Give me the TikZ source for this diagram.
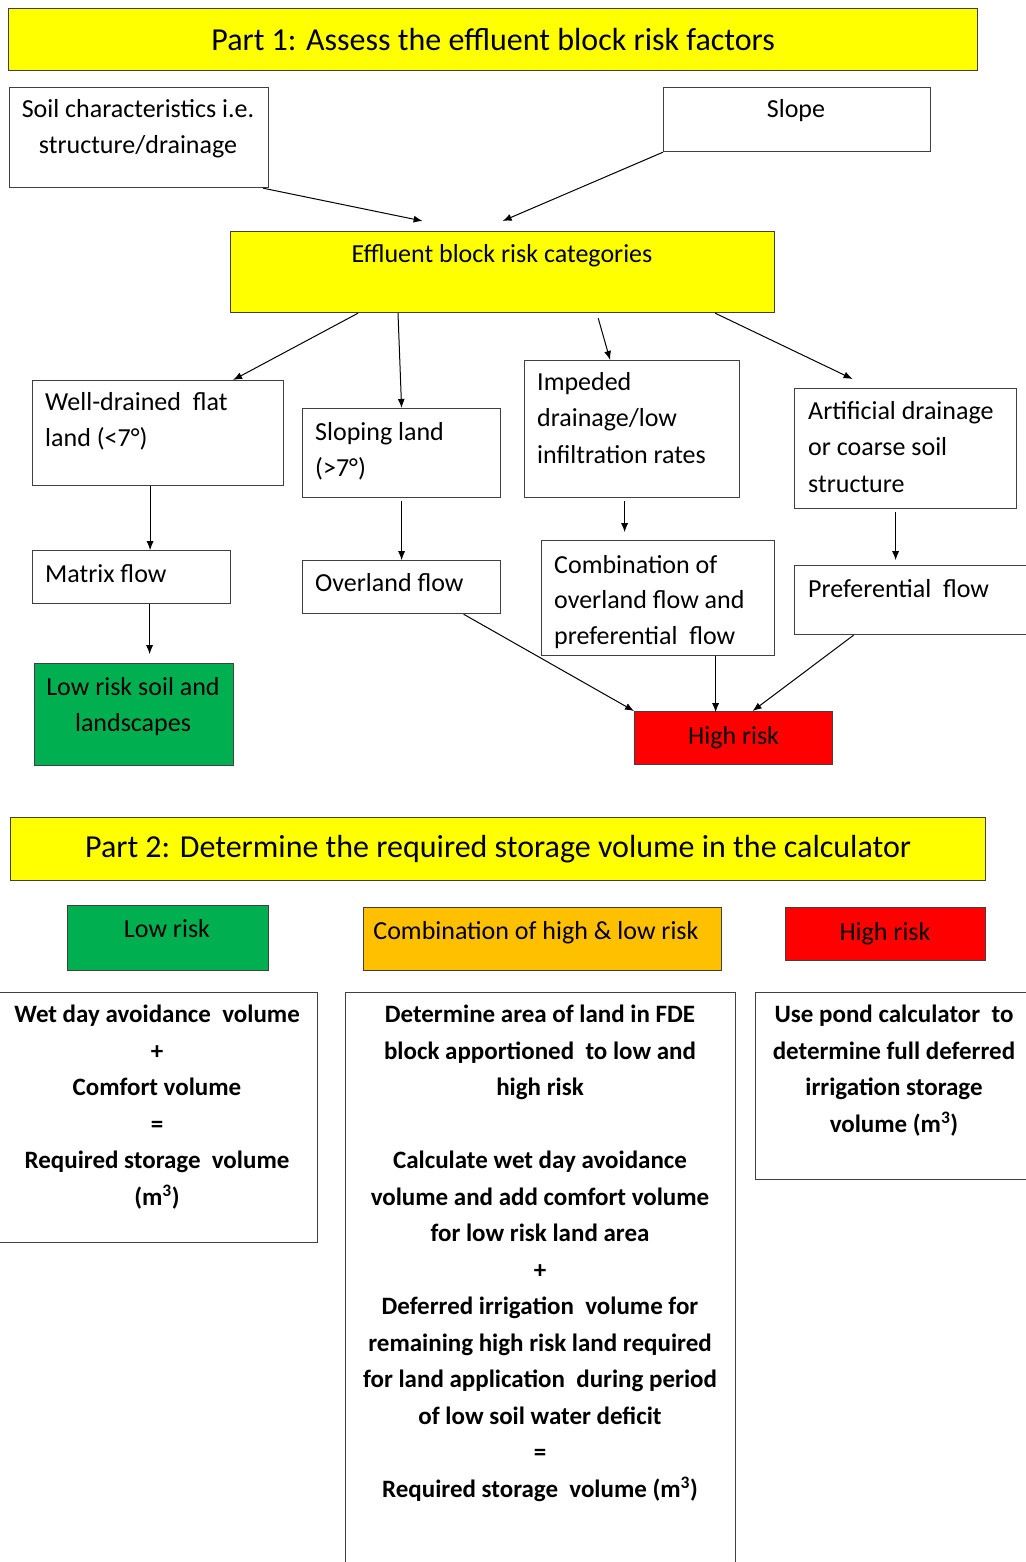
\documentclass[tikz,border=0pt]{standalone}
\usepackage{fontspec}
\setmainfont{Carlito}
\usetikzlibrary{arrows.meta}
\definecolor{partyellow}{RGB}{255,255,0}
\definecolor{lowgreen}{RGB}{0,176,80}
\definecolor{highred}{RGB}{255,0,0}
\definecolor{mixorange}{RGB}{255,192,0}
\definecolor{edgegray}{RGB}{64,64,64}

\begin{document}
\begin{tikzpicture}[x=1pt, y=-1pt,
    >={Latex[length=9pt,width=7pt]},   % kleine gefuellte Pfeilspitzen
    box/.style={draw=edgegray, line width=1.2pt, anchor=north west, inner sep=0pt},
    txt/.style={font=\fontsize{26}{36.5}\selectfont, inner sep=0pt, anchor=north, align=center},
    ltxt/.style={txt, anchor=north west, align=left},
    btxt/.style={txt, font=\fontsize{25}{36.5}\selectfont\bfseries},
    flow/.style={->, line width=1pt}]
    \useasboundingbox (0,0) rectangle (1025,1562);
    % Teil 1: Kaesten
    \node[box, fill=partyellow, minimum width=969pt, minimum height=62pt, font=\fontsize{32}{36}\selectfont] (part1) at (8,8) {Part 1: Assess the effluent block risk factors};
    \node[box, minimum width=259pt, minimum height=100pt] (soil) at (9,87) {};
    \node[txt] (soilT) at (138,99) {Soil characteristics i.e.\\structure/drainage};
    \node[box, minimum width=267pt, minimum height=64pt] (slope) at (663,87) {};
    \node[txt] (slopeT) at (796,99) {Slope};
    \node[box, fill=partyellow, minimum width=544pt, minimum height=81pt] (effl) at (230,231) {};
    \node[txt] (efflT) at (502,244) {Effluent block risk categories};
    \node[box, minimum width=251pt, minimum height=105pt] (well) at (32,380) {};
    \node[ltxt] (wellT) at (45,392) {Well-drained\ \ flat\\land (<7°)};
    \node[box, minimum width=198pt, minimum height=89pt] (sloping) at (302,408) {};
    \node[ltxt] (slopingT) at (315,422) {Sloping land\\(>7°)};
    \node[box, minimum width=215pt, minimum height=137pt] (imped) at (524,360) {};
    \node[ltxt] (impedT) at (537,372) {Impeded\\drainage/low\\infiltration rates};
    \node[box, minimum width=222pt, minimum height=120pt] (artif) at (794,388) {};
    \node[ltxt] (artifT) at (808,401) {Artificial drainage\\or coarse soil\\structure};
    \node[box, minimum width=198pt, minimum height=53pt] (matrix) at (32,550) {};
    \node[ltxt] (matrixT) at (45,564) {Matrix flow};
    \node[box, minimum width=198pt, minimum height=53pt] (overland) at (302,560) {};
    \node[ltxt] (overlandT) at (315,573) {Overland flow};
    \node[box, minimum width=233pt, minimum height=115pt] (combo) at (541,540) {};
    \node[ltxt, font=\fontsize{26}{35.5}\selectfont] (comboT) at (554,555) {Combination of\\overland flow and\\preferential\ \ flow};
    \node[box, minimum width=240pt, minimum height=69pt] (pref) at (794,565) {};
    \node[ltxt] (prefT) at (808,579) {Preferential\ \ flow};
    \node[box, fill=lowgreen, minimum width=199pt, minimum height=102pt] (lowsoil) at (34,663) {};
    \node[txt] (lowsoilT) at (133,677) {Low risk soil and\\landscapes};
    \node[box, fill=highred, minimum width=198pt, minimum height=53pt, font=\fontsize{26}{36.5}\selectfont] (high) at (634,711) {High risk};
    % Teil 1: Pfeile
    \draw[flow] ([xshift=-6]soil.south east) -- ([xshift=-80,yshift=10]effl.north);
    \draw[flow] (slope.south west) -- ([yshift=10]effl.north);
    \draw[flow] ([xshift=128]effl.south west) -- ([xshift=75]well.north);
    \draw[flow] ([xshift=168]effl.south west) -- (sloping.north);
    \draw[flow] ([xshift=-177,yshift=-5]effl.south east) -- ([xshift=-22]imped.north);
    \draw[flow] ([xshift=-60]effl.south east) -- ([xshift=-53,yshift=9]artif.north);
    \draw[flow] ([xshift=-8]well.south) -- ++(0,64);
    \draw[flow] ([yshift=-3]sloping.south) -- ++(0,59);
    \draw[flow] ([xshift=-7.5,yshift=-3]imped.south) -- ++(0,31);
    \draw[flow] ([xshift=-10,yshift=-3]artif.south) -- ++(0,48);
    \draw[flow] ([xshift=18]matrix.south) -- ++(0,50);
    \draw[flow] ([xshift=62]overland.south) -- (high.north west);
    \draw[flow] ([xshift=57.5]combo.south) -- ++(0,56);
    \draw[flow] ([xshift=-61]pref.south) -- ([xshift=19]high.north);
    % Teil 2
    \node[box, fill=partyellow, minimum width=975pt, minimum height=63pt, font=\fontsize{32}{36}\selectfont] (part2) at (10,817) {Part 2: Determine the required storage volume in the calculator};
    \node[box, fill=lowgreen, minimum width=201pt, minimum height=65pt] (lowB) at (67,905) {};
    \node[txt] (lowBT) at (167,919) {Low risk};
    \node[box, fill=mixorange, minimum width=358pt, minimum height=63pt] (mixB) at (363,907) {};
    \node[txt] (mixBT) at (536,921) {Combination of high \& low risk};
    \node[box, fill=highred, minimum width=200pt, minimum height=53pt] (highB) at (785,907) {};
    \node[txt] (highBT) at (885,922) {High risk};
    \node[box, minimum width=319pt, minimum height=250pt] (wet) at (-2,992) {};
    \node[btxt] (wetT) at (157,1005) {Wet day avoidance\ \ volume\\+\\Comfort volume\\=\\Required storage\ \ volume\\(m\textsuperscript{3})};
    \node[box, minimum width=390pt, minimum height=600pt] (mix) at (345,992) {};
    \node[btxt] (mixT) at (540,1005) {Determine area of land in FDE\\block apportioned\ \ to low and\\high risk\\[36.5pt]Calculate wet day avoidance\\volume and add comfort volume\\for low risk land area\\+\\Deferred irrigation\ \ volume for\\remaining high risk land required\\for land application\ \ during period\\of low soil water deficit\\=\\Required storage\ \ volume (m\textsuperscript{3})};
    \node[box, minimum width=290pt, minimum height=187pt] (pond) at (755,992) {};
    \node[btxt] (pondT) at (894,1005) {Use pond calculator\ \ to\\determine full deferred\\irrigation storage\\volume (m\textsuperscript{3})};
\end{tikzpicture}
\end{document}
